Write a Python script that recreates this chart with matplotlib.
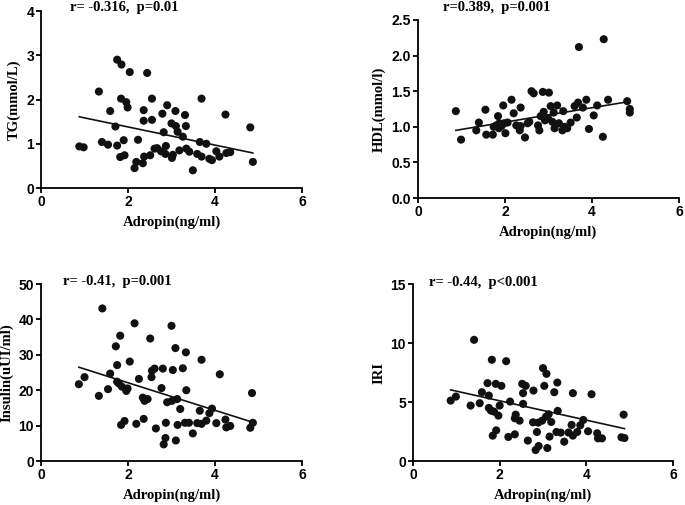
import numpy as np
import matplotlib
matplotlib.use('Agg')
import matplotlib.pyplot as plt

# datos (Adropin vs cada variable)
tg_x = [0.88, 0.98, 1.33, 1.40, 1.54, 1.59, 1.71, 1.75, 1.75, 1.85, 1.82, 1.84, 1.92, 1.90, 1.96,
        1.99, 2.04, 2.15, 2.19, 2.23, 2.36, 2.36, 2.34, 2.37, 2.44, 2.51, 2.55, 2.55, 2.61, 2.67,
        2.76, 2.79, 2.82, 2.86, 2.87, 2.90, 3.00, 3.01, 3.03, 3.09, 3.10, 3.14, 3.18, 3.26, 3.31,
        3.33, 3.34, 3.41, 3.49, 3.59, 3.65, 3.69, 3.69, 3.80, 3.87, 3.93, 4.03, 4.10, 4.24, 4.26,
        4.35, 4.81, 4.87]
tg_y = [0.94, 0.92, 2.18, 1.04, 0.98, 1.74, 1.39, 0.96, 2.90, 2.79, 0.70, 2.02, 0.74, 1.08, 1.94,
        1.82, 2.62, 0.45, 0.59, 1.09, 1.76, 1.52, 0.56, 0.71, 2.60, 0.74, 1.54, 2.02, 0.89, 0.90,
        0.83, 1.68, 1.26, 0.77, 0.95, 1.87, 1.46, 0.68, 0.75, 1.74, 1.40, 1.27, 0.85, 1.16, 1.65,
        1.40, 0.89, 0.82, 0.40, 0.77, 1.04, 0.71, 2.02, 1.00, 0.66, 0.63, 0.83, 0.71, 1.66, 0.79,
        0.81, 1.37, 0.59]
tg_fit = [1.79, -0.205]

hdl_x = [0.87, 0.99, 1.34, 1.40, 1.55, 1.57, 1.72, 1.74, 1.80, 1.84, 1.86, 1.87, 1.92, 1.96, 1.98,
         2.01, 2.06, 2.15, 2.20, 2.26, 2.34, 2.36, 2.36, 2.46, 2.52, 2.56, 2.61, 2.66, 2.76, 2.79,
         2.82, 2.87, 2.89, 2.92, 2.99, 3.01, 3.05, 3.09, 3.12, 3.14, 3.20, 3.24, 3.32, 3.34, 3.37,
         3.43, 3.51, 3.60, 3.65, 3.68, 3.70, 3.79, 3.87, 3.93, 4.04, 4.12, 4.25, 4.27, 4.37, 4.81,
         4.87, 4.87]
hdl_y = [1.22, 0.82, 0.95, 1.06, 1.24, 0.89, 0.89, 1.00, 1.02, 1.15, 0.98, 1.05, 1.01, 1.30, 1.05,
         0.91, 1.06, 1.38, 1.19, 1.02, 0.95, 1.27, 1.01, 0.85, 1.05, 1.07, 1.50, 1.47, 1.02, 0.95,
         1.15, 1.49, 1.21, 1.09, 1.12, 1.48, 1.29, 1.07, 1.20, 0.98, 1.30, 1.05, 0.95, 1.22, 1.00,
         0.98, 1.06, 1.29, 1.13, 1.34, 2.12, 1.27, 1.38, 0.97, 1.16, 1.30, 0.86, 2.23, 1.38, 1.36,
         1.25, 1.20]
hdl_fit = [0.862, 0.1015]

ins_x = [0.87, 1.00, 1.33, 1.41, 1.54, 1.59, 1.72, 1.75, 1.75, 1.79, 1.82, 1.84, 1.86, 1.92, 1.96,
         1.99, 2.04, 2.15, 2.19, 2.25, 2.34, 2.38, 2.36, 2.45, 2.51, 2.54, 2.55, 2.61, 2.64, 2.77,
         2.80, 2.82, 2.86, 2.87, 2.90, 3.00, 3.01, 3.03, 3.09, 3.10, 3.13, 3.14, 3.20, 3.26, 3.31,
         3.33, 3.34, 3.40, 3.49, 3.59, 3.65, 3.69, 3.69, 3.80, 3.87, 3.93, 4.03, 4.11, 4.24, 4.26,
         4.35, 4.81, 4.85, 4.87]
ins_y = [21.7, 23.7, 18.4, 43.1, 20.3, 24.7, 32.4, 27.1, 22.4, 21.9, 35.4, 10.2, 21.0, 11.3, 19.8,
         20.5, 28.1, 38.9, 10.5, 23.2, 17.9, 17.0, 11.9, 17.5, 34.6, 23.7, 25.5, 26.1, 9.2, 20.6,
         26.1, 4.7, 6.5, 10.8, 16.6, 38.2, 17.0, 25.7, 31.9, 5.8, 17.5, 10.2, 14.7, 26.2, 10.8,
         30.7, 20.0, 10.8, 7.8, 10.7, 14.2, 10.5, 28.6, 11.4, 13.5, 14.8, 10.7, 24.5, 11.7, 9.5,
         9.9, 9.4, 19.2, 10.8]
ins_fit = [29.88, -3.89]

iri_x = [0.87, 0.99, 1.33, 1.41, 1.54, 1.59, 1.72, 1.75, 1.75, 1.80, 1.82, 1.84, 1.87, 1.91, 1.92,
         1.97, 2.00, 2.04, 2.15, 2.20, 2.24, 2.35, 2.37, 2.35, 2.46, 2.52, 2.54, 2.54, 2.60, 2.65,
         2.78, 2.77, 2.83, 2.86, 2.89, 2.90, 2.98, 3.00, 3.03, 3.07, 3.08, 3.10, 3.13, 3.15, 3.19,
         3.26, 3.31, 3.33, 3.34, 3.41, 3.49, 3.59, 3.66, 3.69, 3.69, 3.79, 3.86, 3.93, 4.04, 4.12,
         4.25, 4.27, 4.36, 4.81, 4.86, 4.88]
iri_y = [5.12, 5.46, 4.70, 10.27, 4.90, 5.83, 6.60, 5.55, 4.50, 4.27, 8.58, 2.15, 4.19, 6.54, 2.60,
         3.85, 4.70, 6.37, 8.46, 2.04, 5.04, 3.62, 3.93, 2.26, 3.42, 6.54, 4.84, 5.75, 6.37, 1.73,
         5.97, 3.28, 0.93, 2.46, 3.25, 1.27, 3.42, 7.87, 6.37, 3.76, 7.39, 1.10, 3.96, 2.07, 3.31,
         5.83, 2.46, 6.65, 4.25, 2.41, 1.64, 2.41, 3.06, 5.75, 2.15, 2.46, 3.03, 3.48, 2.52, 5.66,
         2.35, 1.92, 1.92, 2.01, 3.93, 1.95]
iri_fit = [6.74, -0.819]

ylabels = ['TG(mmol/L)', 'HDL(mmol/l)', 'Insulin(uUI/ml)', 'IRI']
notas = ['r= -0.316,  p=0.01', 'r=0.389,  p=0.001', 'r= -0.41,  p=0.001', 'r= -0.44,  p<0.001']
yticks = [[0, 1, 2, 3, 4], [0.0, 0.5, 1.0, 1.5, 2.0, 2.5], [0, 10, 20, 30, 40, 50], [0, 5, 10, 15]]
xticks = [0, 2, 4, 6]

serif = 'Liberation Serif'
sans = 'Liberation Sans'

fig = plt.figure(figsize=(6.85, 5.05), dpi=100)
# posiciones de cada panel [left, bottom, width, height]
rects = [[0.0599, 0.6277, 0.381, 0.3505],
         [0.6102, 0.6079, 0.381, 0.3525],
         [0.0599, 0.0871, 0.381, 0.3505],
         [0.6029, 0.0871, 0.3796, 0.3505]]
nota_pos = [(0.11, 1.022), (0.096, 1.073), (0.084, 1.017), (0.06, 1.006)]

datos = [(tg_x, tg_y, tg_fit), (hdl_x, hdl_y, hdl_fit), (ins_x, ins_y, ins_fit), (iri_x, iri_y, iri_fit)]

for i in range(4):
    x, y, fit = datos[i]
    ax = fig.add_axes(rects[i])
    ax.scatter(x, y, s=34, color='#111111', edgecolors='none', zorder=3)
    xl = np.array([min(x), max(x)])
    ax.plot(xl, fit[0] + fit[1] * xl, color='#111111', lw=1.2, zorder=2)
    ax.set_xlim(0, 6)
    ax.set_ylim(yticks[i][0], yticks[i][-1])
    ax.set_xticks(xticks)
    ax.set_yticks(yticks[i])
    if i == 1:
        ax.set_yticklabels(['%.1f' % v for v in yticks[i]])
    ax.spines['top'].set_visible(False)
    ax.spines['right'].set_visible(False)
    ax.spines['left'].set_linewidth(1.3)
    ax.spines['bottom'].set_linewidth(1.3)
    ax.tick_params(direction='out', length=3.5, width=1.3, pad=1.5)
    for t in ax.get_xticklabels() + ax.get_yticklabels():
        t.set_fontfamily(sans)
        t.set_fontweight('bold')
        t.set_fontsize(10)
    ax.set_xlabel('Adropin(ng/ml)', fontfamily=serif, fontweight='bold', fontsize=10.5, labelpad=5)
    ax.set_ylabel(ylabels[i], fontfamily=serif, fontweight='bold', fontsize=10.5, labelpad=4)
    ax.text(nota_pos[i][0], nota_pos[i][1], notas[i], transform=ax.transAxes,
            fontfamily=serif, fontweight='bold', fontsize=10.5, va='center', ha='left')
    ax.patch.set_alpha(0)

fig.savefig('out.png', dpi=100)
